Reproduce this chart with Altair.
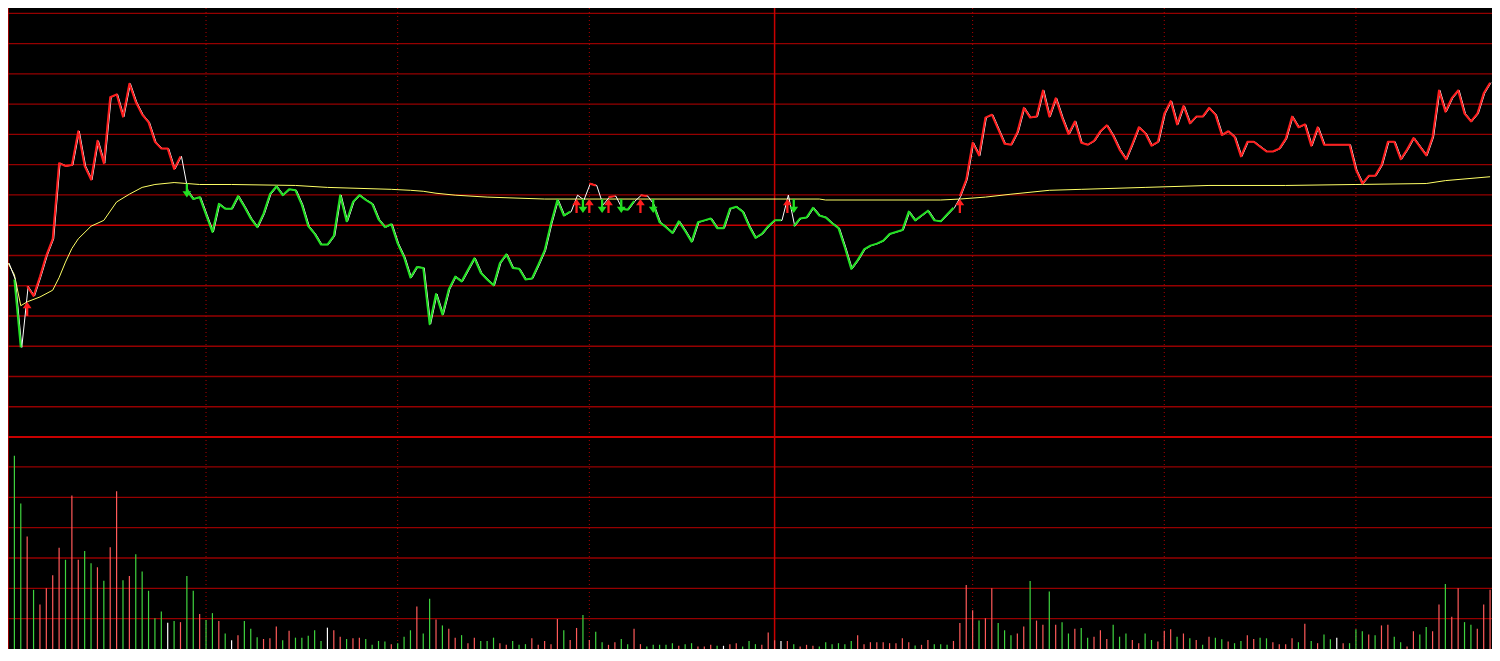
import altair as alt
import numpy as np
import pandas as pd

# ---------------- data ----------------
# last price for each minute (index 0 = open)
price = [
    9.961, 9.944, 9.874, 9.937, 9.927, 9.947, 9.969, 9.986, 10.064, 10.061,
    10.062, 10.097, 10.061, 10.047, 10.087, 10.064, 10.132, 10.135, 10.112, 10.146,
    10.127, 10.114, 10.106, 10.086, 10.079, 10.079, 10.058, 10.071, 10.036, 10.027,
    10.029, 10.011, 9.993, 10.022, 10.017, 10.017, 10.030, 10.019, 10.007, 9.998,
    10.012, 10.032, 10.040, 10.031, 10.037, 10.036, 10.021, 9.999, 9.991, 9.980,
    9.980, 9.989, 10.031, 10.004, 10.024, 10.031, 10.026, 10.022, 10.006, 9.998,
    10.001, 9.981, 9.967, 9.946, 9.957, 9.956, 9.898, 9.929, 9.908, 9.934,
    9.947, 9.942, 9.954, 9.966, 9.951, 9.944, 9.938, 9.961, 9.970, 9.956,
    9.955, 9.944, 9.945, 9.959, 9.974, 10.002, 10.026, 10.010, 10.014, 10.031,
    10.026, 10.043, 10.041, 10.021, 10.029, 10.030, 10.017, 10.016, 10.025, 10.031,
    10.030, 10.021, 10.003, 9.998, 9.992, 10.004, 9.994, 9.983, 10.003, 10.005,
    10.007, 9.997, 9.997, 10.017, 10.019, 10.014, 9.999, 9.987, 9.991, 9.999,
    10.005, 10.005, 10.031, 9.999, 10.007, 10.008, 10.018, 10.010, 10.008, 10.002,
    9.997, 9.977, 9.955, 9.964, 9.975, 9.979, 9.981, 9.984, 9.991, 9.993,
    9.995, 10.014, 10.005, 10.010, 10.015, 10.005, 10.004, 10.011, 10.018, 10.030,
    10.047, 10.085, 10.072, 10.111, 10.114, 10.099, 10.084, 10.083, 10.096, 10.121,
    10.111, 10.112, 10.139, 10.112, 10.131, 10.111, 10.094, 10.107, 10.085, 10.083,
    10.087, 10.097, 10.103, 10.092, 10.078, 10.068, 10.084, 10.101, 10.095, 10.082,
    10.086, 10.115, 10.128, 10.104, 10.123, 10.105, 10.112, 10.112, 10.121, 10.114,
    10.093, 10.097, 10.091, 10.071, 10.086, 10.086, 10.081, 10.076, 10.076, 10.079,
    10.089, 10.112, 10.101, 10.104, 10.082, 10.101, 10.083, 10.083, 10.083, 10.083,
    10.083, 10.057, 10.043, 10.051, 10.051, 10.062, 10.086, 10.086, 10.068, 10.078,
    10.090, 10.081, 10.072, 10.091, 10.139, 10.117, 10.131, 10.139, 10.115, 10.107,
    10.115, 10.136, 10.147,
]

# average-price (yellow) line, read at these minutes
avg_idx = [0, 1, 2, 3, 5, 7, 8, 9, 10, 11, 13, 15, 17, 19, 21, 23, 26, 30, 35, 45,
           50, 60, 63, 65, 67, 70, 75, 84, 127, 128, 146, 149, 153, 157, 163, 168,
           178, 188, 200, 211, 222, 225, 232]
avg_val = [9.961, 9.949, 9.917, 9.921, 9.926, 9.933, 9.946, 9.962, 9.976, 9.986,
           9.999, 10.005, 10.024, 10.032, 10.039, 10.042, 10.044, 10.042, 10.042, 10.041,
           10.039, 10.037, 10.036, 10.035, 10.033, 10.031, 10.029, 10.027, 10.027, 10.026,
           10.026, 10.027, 10.029, 10.032, 10.036, 10.037, 10.039, 10.041, 10.041, 10.042,
           10.043, 10.046, 10.050]

# volume (lots) for minutes 1..232
volume = [
    1993, 1500, 1160, 610, 460, 627, 760, 1043, 920, 1583,
    920, 1010, 883, 843, 703, 1050, 1627, 710, 753, 977,
    800, 600, 317, 387, 270, 290, 277, 753, 600, 360,
    300, 370, 290, 160, 90, 143, 290, 210, 120, 103,
    110, 233, 90, 187, 117, 117, 137, 193, 83, 220,
    193, 127, 103, 110, 117, 103, 43, 83, 77, 50,
    60, 127, 193, 437, 160, 517, 303, 243, 210, 117,
    143, 60, 117, 83, 83, 117, 60, 43, 83, 43,
    50, 110, 43, 83, 50, 310, 193, 93, 217, 350,
    93, 177, 70, 43, 70, 103, 50, 210, 50, 27,
    43, 43, 43, 60, 33, 50, 60, 27, 27, 43,
    33, 33, 50, 60, 27, 83, 50, 43, 170, 90,
    83, 83, 50, 27, 43, 33, 27, 70, 50, 60,
    50, 83, 143, 50, 70, 70, 70, 60, 60, 110,
    70, 37, 43, 93, 50, 50, 43, 83, 267, 660,
    400, 293, 317, 627, 267, 193, 143, 160, 233, 700,
    293, 250, 593, 250, 277, 160, 210, 217, 117, 127,
    193, 103, 250, 127, 160, 93, 60, 160, 93, 77,
    187, 203, 127, 160, 110, 93, 43, 127, 117, 100,
    77, 60, 83, 143, 103, 117, 110, 70, 50, 50,
    110, 70, 260, 83, 60, 150, 100, 117, 60, 60,
    203, 183, 150, 143, 243, 250, 127, 70, 27, 183,
    150, 227, 183, 460, 670, 333, 627, 277, 250, 210,
    460, 610,
]
# tick direction of each volume bar: r = up, g = down, w = unchanged
vol_dir = ("ggrgrrrrgr" "rggrgrrgrg" "ggggwgrggr" "ggrgwrgggr" "rrgrgggggw"
           "rrgrrggggr" "gggrggrgrr" "grrgggrrgg" "grrrrrgrrg" "rggrrggrrg"
           "ggggrggrrr" "gwrrgggrrr" "wrgrrrgggg" "ggrrrrrrrr" "rgrrgggrrr"
           "rgrrgggrrg" "rrgrggrggr" "rrgggrrggr" "rrgrgrgrgg" "rggrrggrrr"
           "rgrgrggwrg" "ggrgrrggrr" "ggrrgrrggr" "rr")

prev_close = 10.00
grid_step = 0.0312
half_hours = [31, 61, 91, 151, 181, 211]
midday = [120]

# ---------------- layout / style ----------------
W, H = 1484, 641
X_DOM = [0, 232.3]
P_DOM = [9.563, 10.224]
V_DOM = [0, 6610]
GRID = "#950000"
GRID_HI = "#c80000"
RED = "#ff1e1e"
GREEN = "#22e022"
VRED = "#ff5a5a"
VGREEN = "#3fd43f"
YELLOW = "#ffff66"

xs = alt.Scale(domain=X_DOM, nice=False, zero=False)
ps = alt.Scale(domain=P_DOM, nice=False, zero=False)
vs = alt.Scale(domain=V_DOM, nice=False, zero=False)

n = len(price)
idx = np.arange(n)
avg_at = np.interp(idx, avg_idx, avg_val)
side = np.sign(np.round(np.array(price) - avg_at, 4))

# coloured runs of the price line (both ends on same side of the average line)
rows = []
run = -1
prev = None
for k in range(n - 1):
    c = None
    if side[k] == 1 and side[k + 1] == 1:
        c = "up"
    elif side[k] == -1 and side[k + 1] == -1:
        c = "down"
    if c is None:
        prev = None
        continue
    if c != prev:
        run += 1
        rows.append({"run": run, "i": k, "p": price[k], "c": c})
    rows.append({"run": run, "i": k + 1, "p": price[k + 1], "c": c})
    prev = c
runs = pd.DataFrame(rows)

arrows = []
for k in range(1, n):
    if side[k - 1] == -1 and side[k] == 1:
        arrows.append({"i": k, "p": avg_at[k], "d": "up"})
    elif side[k - 1] == 1 and side[k] == -1:
        arrows.append({"i": k, "p": avg_at[k], "d": "down"})
arr = pd.DataFrame(arrows)

price_df = pd.DataFrame({"i": idx, "p": price})
avg_df = pd.DataFrame({"i": avg_idx, "p": avg_val})
vol_df = pd.DataFrame({"i": np.arange(1, len(volume) + 1), "v": volume,
                       "d": list(vol_dir), "z": 0})

pgrid = pd.DataFrame({"p": [prev_close + k * grid_step for k in range(-6, 8) if k != 0]})
pmain = pd.DataFrame({"p": [prev_close]})
pdiv = pd.DataFrame({"p": [prev_close - 7 * grid_step]})
vgrid = pd.DataFrame({"v": [2190 / 7 * k for k in range(1, 7)]})
dotted = pd.DataFrame({"i": half_hours})
solid = pd.DataFrame({"i": midday + [0]})

X = alt.X("i:Q", scale=xs, axis=None)
YP = alt.Y("p:Q", scale=ps, axis=None)
YV = alt.Y("v:Q", scale=vs, axis=None)
full_w = dict(x=alt.value(0), x2=alt.value(W))
full_h = dict(y=alt.value(0), y2=alt.value(H))

layers = [
    alt.Chart(pgrid).mark_rule(color=GRID, strokeWidth=1.3).encode(y=YP, **full_w),
    alt.Chart(vgrid).mark_rule(color=GRID, strokeWidth=1.3).encode(y=YV, **full_w),
    alt.Chart(pmain).mark_rule(color=GRID_HI, strokeWidth=1.6).encode(y=YP, **full_w),
    alt.Chart(dotted).mark_rule(color="#b00000", strokeWidth=1, strokeDash=[1, 3]).encode(x=X, **full_h),
    alt.Chart(solid).mark_rule(color=GRID_HI, strokeWidth=1.5).encode(x=X, **full_h),
    alt.Chart(pdiv).mark_rule(color=GRID_HI, strokeWidth=2).encode(y=YP, **full_w),
]
for d, col in (("r", VRED), ("g", VGREEN), ("w", "#ffffff")):
    layers.append(
        alt.Chart(vol_df).transform_filter(alt.datum.d == d)
        .mark_rule(color=col, strokeWidth=1.2)
        .encode(x=X, y=YV, y2=alt.Y2("z:Q"))
    )
layers += [
    alt.Chart(avg_df).mark_line(color=YELLOW, strokeWidth=1).encode(x=X, y=YP),
    alt.Chart(price_df).mark_line(color="#ffffff", strokeWidth=1, xOffset=1).encode(x=X, y=YP),
]
for c, col in (("up", RED), ("down", GREEN)):
    layers.append(
        alt.Chart(runs).transform_filter(alt.datum.c == c)
        .mark_line(color=col, strokeWidth=2, strokeJoin="round")
        .encode(x=X, y=YP, detail="run:N", order="i:Q")
    )

UP = "M0,-1L0.62,-0.1L0.16,-0.1L0.16,1L-0.16,1L-0.16,-0.1L-0.62,-0.1Z"
DOWN = "M0,1L0.62,0.1L0.16,0.1L0.16,-1L-0.16,-1L-0.16,0.1L-0.62,0.1Z"
for d, col, shp in (("up", RED, UP), ("down", GREEN, DOWN)):
    layers.append(
        alt.Chart(arr).transform_filter(alt.datum.d == d)
        .mark_point(shape=shp, filled=True, size=200, color=col, opacity=1,
                    strokeWidth=0, yOffset=7)
        .encode(x=X, y=YP)
    )

chart = (
    alt.layer(*layers)
    .resolve_scale(y="independent")
    .properties(width=W, height=H, background="#000000", padding=0,
                autosize=alt.AutoSizeParams(type="none"))
    .configure_view(stroke=None)
)

chart.save("out.html", embed_options={"renderer": "svg", "actions": False})
